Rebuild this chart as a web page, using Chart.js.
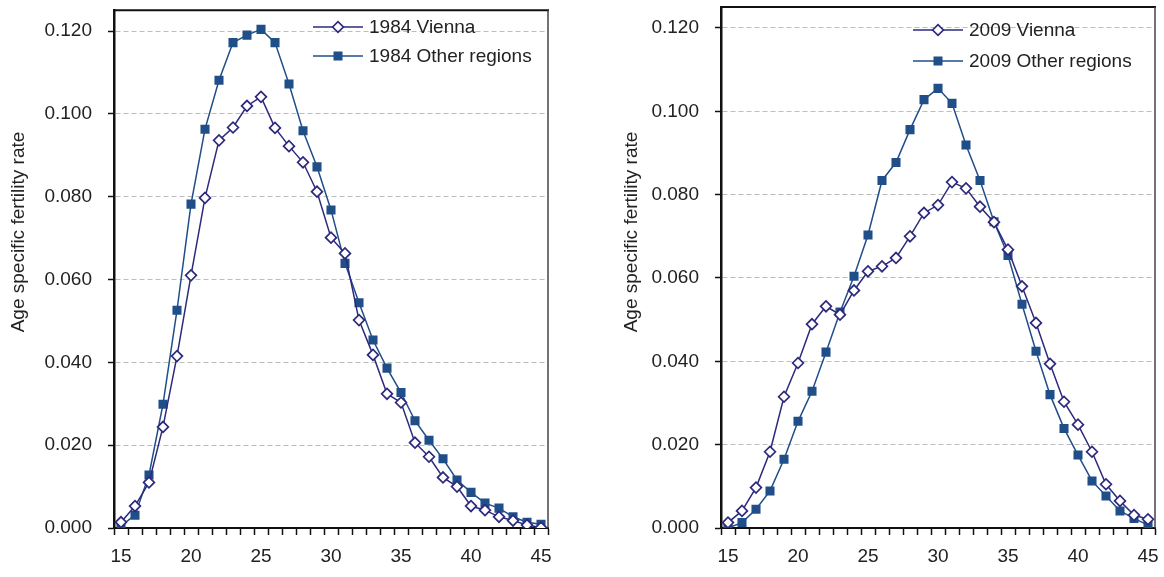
<!DOCTYPE html>
<html>
<head>
<meta charset="utf-8">
<script src="https://cdn.jsdelivr.net/npm/chart.js@4.4.1/dist/chart.umd.min.js"></script>
<style>
  html, body { margin: 0; padding: 0; background: #fff; }
  body { width: 1164px; height: 577px; position: relative; overflow: hidden; }
  canvas { position: absolute; top: 0; }
  #c1 { left: 0; }
  #c2 { left: 607px; }
</style>
</head>
<body>
<canvas id="c1" width="557" height="577"></canvas>
<canvas id="c2" width="557" height="577"></canvas>
<script>
// ---- data ----
const ages = ['15','16','17','18','19','20','21','22','23','24','25','26','27','28','29','30',
              '31','32','33','34','35','36','37','38','39','40','41','42','43','44','45'];
const xTickLabels = ['15','20','25','30','35','40','45'];
const yTicks = [0, 0.02, 0.04, 0.06, 0.08, 0.10, 0.12];

const vienna1984 = [0.0014, 0.0053, 0.0110, 0.0244, 0.0415, 0.0610, 0.0797, 0.0936, 0.0967, 0.1019,
                    0.1041, 0.0966, 0.0922, 0.0883, 0.0812, 0.0701, 0.0663, 0.0502, 0.0418, 0.0324,
                    0.0303, 0.0206, 0.0172, 0.0122, 0.0100, 0.0053, 0.0043, 0.0027, 0.0018, 0.0007, 0.0001];
const other1984  = [0.0005, 0.0031, 0.0128, 0.0299, 0.0526, 0.0782, 0.0963, 0.1081, 0.1172, 0.1190,
                    0.1204, 0.1172, 0.1072, 0.0959, 0.0872, 0.0768, 0.0639, 0.0544, 0.0454, 0.0386,
                    0.0327, 0.0259, 0.0212, 0.0167, 0.0116, 0.0086, 0.0060, 0.0048, 0.0027, 0.0014, 0.0009];
const vienna2009 = [0.0013, 0.0041, 0.0097, 0.0183, 0.0315, 0.0396, 0.0489, 0.0532, 0.0512, 0.0570,
                    0.0616, 0.0628, 0.0648, 0.0700, 0.0756, 0.0775, 0.0830, 0.0815, 0.0771, 0.0734,
                    0.0668, 0.0580, 0.0492, 0.0394, 0.0303, 0.0248, 0.0183, 0.0105, 0.0065, 0.0031, 0.0021];
const other2009  = [0.0000, 0.0013, 0.0045, 0.0089, 0.0165, 0.0256, 0.0328, 0.0422, 0.0518, 0.0604,
                    0.0703, 0.0834, 0.0877, 0.0956, 0.1028, 0.1055, 0.1019, 0.0919, 0.0834, 0.0735,
                    0.0654, 0.0537, 0.0424, 0.0320, 0.0239, 0.0175, 0.0113, 0.0077, 0.0041, 0.0023, 0.0007];

const yTitle = 'Age specific fertility rate';

// ---- styles ----
const FONT = '"Liberation Sans", Arial, sans-serif';
const FS = 19;
const VIENNA = '#2D2A7C';
const OTHER = '#1F4E89';

function viennaDs(label, data) {
  return { label, data, borderColor: VIENNA, backgroundColor: '#ffffff', borderWidth: 1.5,
    pointStyle: 'rectRot', pointRadius: 5.4, pointBorderWidth: 1.7, pointBorderColor: VIENNA,
    pointBackgroundColor: '#ffffff', tension: 0, order: 1 };
}
function otherDs(label, data) {
  return { label, data, borderColor: OTHER, backgroundColor: OTHER, borderWidth: 1.5,
    pointStyle: 'rect', pointRadius: 6.4, pointBorderWidth: 0, pointBorderColor: OTHER,
    pointBackgroundColor: OTHER, tension: 0, order: 2 };
}

const framePlugin = {
  id: 'frame',
  afterDraw(chart) {
    const { ctx, chartArea: a } = chart;
    ctx.save();
    ctx.strokeStyle = '#111';
    ctx.lineWidth = 2;
    ctx.beginPath(); ctx.moveTo(a.left, a.top); ctx.lineTo(a.right + 1, a.top); ctx.stroke();
    ctx.strokeStyle = '#444';
    ctx.lineWidth = 1.5;
    ctx.beginPath(); ctx.moveTo(a.right, a.top); ctx.lineTo(a.right, a.bottom); ctx.stroke();
    ctx.restore();
  }
};

const extrasPlugin = {
  id: 'extras',
  afterDraw(chart, args, opts) {
    const ctx = chart.ctx;
    ctx.save();
    // y title
    ctx.font = FS + 'px ' + FONT;
    ctx.fillStyle = '#222';
    ctx.textAlign = 'center';
    ctx.textBaseline = 'middle';
    ctx.translate(opts.titleX, opts.titleY);
    ctx.rotate(-Math.PI / 2);
    ctx.fillText(yTitle, 0, 0);
    ctx.restore();
    // legend
    ctx.save();
    chart.data.datasets.forEach((ds, i) => {
      const y = opts.legendRows[i];
      const x0 = opts.legendX, x1 = opts.legendX + 50, xm = (x0 + x1) / 2;
      ctx.strokeStyle = ds.borderColor;
      ctx.lineWidth = 1.5;
      ctx.beginPath(); ctx.moveTo(x0, y); ctx.lineTo(x1, y); ctx.stroke();
      if (ds.pointStyle === 'rectRot') {
        const r = 5.4;
        ctx.fillStyle = '#fff';
        ctx.lineWidth = 1.7;
        ctx.beginPath();
        ctx.moveTo(xm - r, y); ctx.lineTo(xm, y - r); ctx.lineTo(xm + r, y); ctx.lineTo(xm, y + r);
        ctx.closePath(); ctx.fill(); ctx.stroke();
      } else {
        const s = 4.5;
        ctx.fillStyle = ds.backgroundColor;
        ctx.fillRect(xm - s, y - s, 2 * s, 2 * s);
      }
      ctx.fillStyle = '#222';
      ctx.font = FS + 'px ' + FONT;
      ctx.textAlign = 'left';
      ctx.textBaseline = 'middle';
      ctx.fillText(ds.label, x1 + 6, y + 1);
    });
    ctx.restore();
  }
};

function makeChart(id, dsets, plotTop, opts) {
  return new Chart(document.getElementById(id), {
    type: 'line',
    data: { labels: ages, datasets: dsets },
    options: {
      responsive: false,
      animation: false,
      layout: { padding: { top: 0, right: 9, left: 0, bottom: 0 } },
      plugins: { legend: { display: false }, tooltip: { enabled: false }, extras: opts },
      scales: {
        x: {
          type: 'category',
          offset: true,
          afterFit(scale) { scale.height = 49; scale.paddingLeft = 0; scale.paddingRight = 0; },
          grid: { offset: true, drawOnChartArea: false, drawTicks: true, tickLength: 7,
                  tickColor: '#111', tickWidth: 1.5 },
          border: { display: true, color: '#111', width: 2 },
          ticks: {
            autoSkip: false, maxRotation: 0, padding: 10, color: '#222',
            font: { family: FONT, size: FS },
            callback(v, i) { const l = ages[i]; return xTickLabels.includes(l) ? l : ''; }
          }
        },
        y: {
          min: 0, max: 0.125,
          afterFit(scale) { scale.width = 114; scale.paddingTop = plotTop; scale.paddingBottom = 0; },
          afterBuildTicks(scale) { scale.ticks = yTicks.map(v => ({ value: v })); },
          grid: { color: '#bdbdbd', lineWidth: 1, drawTicks: true,
                  tickLength: 6, tickColor: '#111', tickBorderDash: [], tickWidth: 1.5 },
          border: { display: true, color: '#111', width: 2.5, dash: [5, 3] },
          ticks: { padding: 16, color: '#222', font: { family: FONT, size: FS },
                   callback(v) { return Number(v).toFixed(3); } }
        }
      }
    },
    plugins: [framePlugin, extrasPlugin]
  });
}

makeChart('c1', [viennaDs('1984 Vienna', vienna1984), otherDs('1984 Other regions', other1984)], 10.3,
  { titleX: 19, titleY: 232, legendX: 313, legendRows: [27, 56] });
makeChart('c2', [viennaDs('2009 Vienna', vienna2009), otherDs('2009 Other regions', other2009)], 6,
  { titleX: 25, titleY: 232, legendX: 306, legendRows: [30, 61] });
</script>
</body>
</html>
